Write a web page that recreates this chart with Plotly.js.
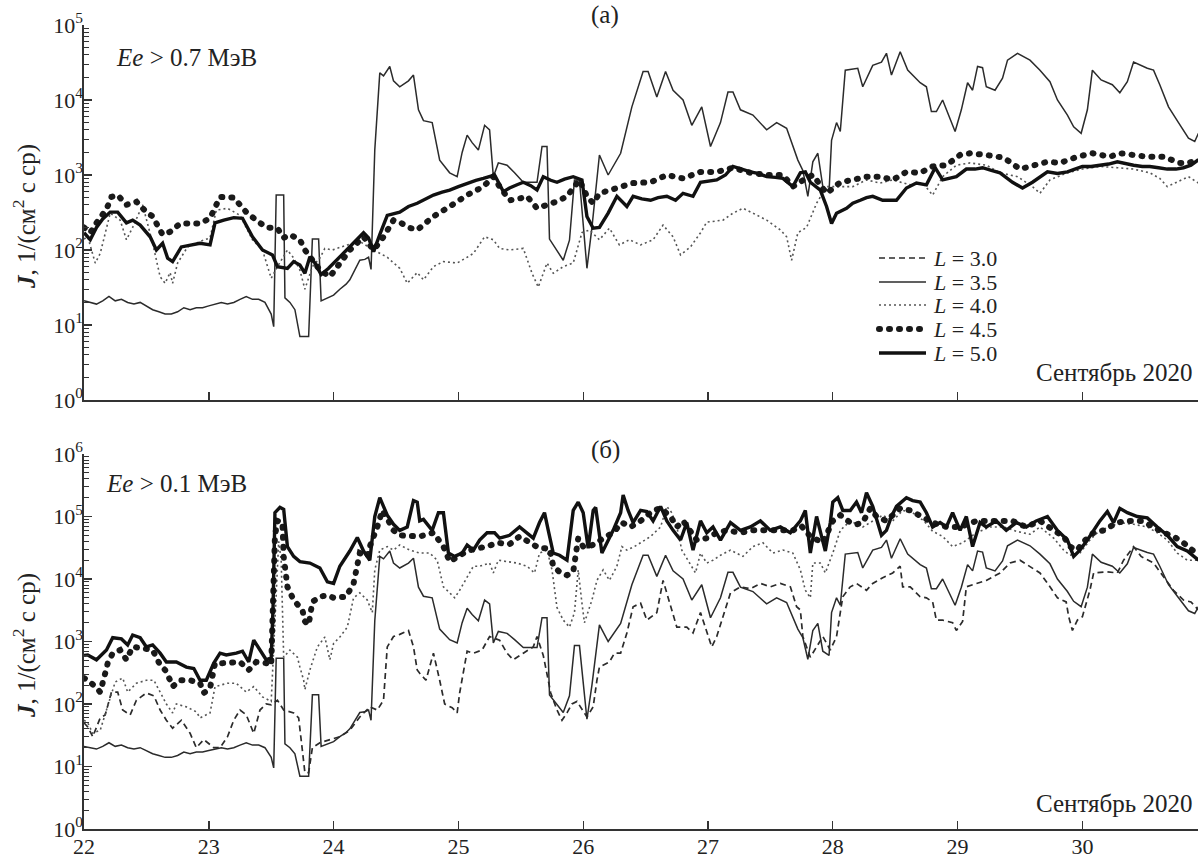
<!DOCTYPE html>
<html>
<head>
<meta charset="utf-8">
<script src="https://cdn.plot.ly/plotly-3.0.1.min.js"></script>
<style>html,body{margin:0;padding:0;background:#fff}</style>
</head>
<body>
<div id="chart" style="width:1200px;height:859px"></div>
<script>
// Days of September 2020 on the time axis
const dayTicks = [22, 23, 24, 25, 26, 27, 28, 29, 30];
const dayLabels = ['22', '23', '24', '25', '26', '27', '28', '29', '30'];
const decadesA = [0, 1, 2, 3, 4, 5];
const decadesB = [0, 1, 2, 3, 4, 5, 6];
const shellNames = ['3.0', '3.5', '4.0', '4.5', '5.0'];

// Electron flux [day, J] per drift shell L.
// L = 3.5 is the same record in both panels.
const flux_L35 = [
  [22.00,21],[22.05,20],[22.10,19],[22.15,21],[22.20,24],[22.25,21],[22.30,22],[22.35,20],[22.40,19],[22.45,20],
  [22.50,18],[22.55,16],[22.60,15],[22.65,14],[22.70,14],[22.75,15],[22.80,17],[22.85,16],[22.90,17],[22.95,17],
  [23.00,18],[23.05,19],[23.10,20],[23.15,19],[23.20,20],[23.25,22],[23.30,24],[23.35,22],[23.40,22],[23.45,20],
  [23.50,14],[23.52,9.5],[23.54,540],[23.60,540],[23.61,23],[23.65,20],[23.69,16],[23.73,7],[23.80,7],[23.83,140],
  [23.88,140],[23.90,21],[23.95,23],[24.00,25],[24.05,30],[24.10,35],[24.13,40],[24.17,55],[24.21,73],[24.25,75],
  [24.28,80],[24.30,55],[24.33,2150],[24.37,23000],[24.40,21000],[24.45,28000],[24.48,18000],[24.53,15000],[24.60,18000],[24.64,21500],
  [24.68,7400],[24.72,5300],[24.79,5000],[24.85,1580],[24.93,1070],[24.99,950],[25.03,2000],[25.07,3400],[25.11,2700],[25.16,2150],
  [25.21,4600],[25.25,4000],[25.28,950],[25.32,1450],[25.39,1350],[25.45,1070],[25.52,800],[25.63,800],[25.67,2400],[25.71,2400],
  [25.73,140],[25.84,73],[25.89,135],[25.93,860],[25.97,860],[26.03,57],[26.07,200],[26.13,1850],[26.20,1000],[26.30,1950],
  [26.35,4400],[26.39,8100],[26.48,24000],[26.52,24000],[26.59,11000],[26.66,24000],[26.72,13500],[26.80,10000],[26.87,4600],[26.95,8100],
  [27.02,2400],[27.10,5000],[27.16,12800],[27.20,12800],[27.26,7400],[27.36,6300],[27.47,4000],[27.55,5000],[27.63,4200],[27.67,2700],
  [27.72,1580],[27.76,1150],[27.80,520],[27.84,1500],[27.88,1950],[27.92,700],[27.97,600],[27.99,2900],[28.03,5000],[28.06,3800],
  [28.10,25000],[28.20,26500],[28.24,15000],[28.32,29000],[28.39,32000],[28.43,42000],[28.47,21500],[28.54,44000],[28.60,25000],[28.70,17000],
  [28.75,15000],[28.79,7000],[28.83,7000],[28.88,10000],[28.92,6700],[28.98,3800],[29.03,7400],[29.08,17000],[29.12,13500],[29.16,28000],
  [29.20,27000],[29.23,15000],[29.30,13500],[29.36,19500],[29.40,34000],[29.48,42000],[29.58,34000],[29.66,25000],[29.74,17500],[29.80,10000],
  [29.88,6300],[29.93,4400],[29.99,3600],[30.04,7400],[30.08,25000],[30.15,18500],[30.24,16000],[30.30,12500],[30.36,17500],[30.41,32000],
  [30.52,26500],[30.57,25000],[30.62,16000],[30.69,8100],[30.77,5000],[30.85,3100],[30.90,2800],[30.93,3600]
];

// Panel (а): Ee > 0.7 MeV
const e07_L40 = [
  [22.00,140],[22.03,150],[22.09,67],[22.13,90],[22.21,310],[22.29,250],[22.34,137],[22.39,200],[22.47,400],[22.55,123],
  [22.61,44],[22.65,36],[22.69,50],[22.71,36],[22.75,67],[22.83,110],[22.93,130],[23.01,145],[23.06,340],[23.15,360],
  [23.25,290],[23.35,137],[23.43,100],[23.50,42],[23.55,60],[23.63,100],[23.68,78],[23.73,54],[23.77,30],[23.83,60],
  [23.89,78],[23.93,105],[23.99,100],[24.11,117],[24.21,130],[24.32,100],[24.43,80],[24.53,57],[24.59,36],[24.67,50],
  [24.72,40],[24.80,60],[24.88,70],[24.99,67],[25.07,80],[25.12,90],[25.21,150],[25.28,137],[25.33,105],[25.41,100],
  [25.52,105],[25.59,49],[25.64,32],[25.71,67],[25.76,49],[25.84,60],[25.92,67],[25.99,170],[26.05,185],[26.13,137],
  [26.21,195],[26.29,117],[26.37,137],[26.46,117],[26.56,137],[26.64,215],[26.72,150],[26.78,86],[26.86,110],[26.94,170],
  [26.99,235],[27.12,250],[27.20,310],[27.28,360],[27.36,310],[27.47,250],[27.58,185],[27.63,150],[27.67,73],[27.72,170],
  [27.79,200],[27.87,420],[27.95,700],[28.06,700],[28.16,700],[28.27,860],[28.38,780],[28.48,860],[28.62,740],[28.72,780],
  [28.80,540],[28.88,950],[28.99,1350],[29.10,1450],[29.23,1350],[29.34,1070],[29.48,950],[29.60,700],[29.66,570],[29.74,860],
  [29.88,1070],[30.00,1200],[30.14,1300],[30.28,1250],[30.41,1200],[30.54,1070],[30.62,900],[30.68,700],[30.76,800],[30.85,950],
  [30.93,780]
];

const e07_L45 = [
  [22.00,200],[22.05,170],[22.10,230],[22.18,350],[22.22,510],[22.27,540],[22.34,400],[22.42,440],[22.50,320],[22.55,280],
  [22.63,160],[22.69,175],[22.77,225],[22.85,225],[22.93,225],[23.01,265],[23.06,380],[23.09,510],[23.20,500],[23.30,320],
  [23.38,250],[23.46,200],[23.55,195],[23.60,145],[23.65,160],[23.73,137],[23.77,100],[23.84,67],[23.89,54],[23.97,44],
  [24.03,60],[24.13,100],[24.24,150],[24.32,100],[24.40,150],[24.48,250],[24.53,235],[24.60,200],[24.67,185],[24.80,280],
  [24.93,380],[25.07,540],[25.20,700],[25.28,950],[25.33,700],[25.41,460],[25.48,480],[25.55,520],[25.63,360],[25.73,400],
  [25.80,450],[25.87,520],[25.97,860],[26.03,520],[26.08,420],[26.13,570],[26.20,620],[26.27,670],[26.40,780],[26.54,800],
  [26.67,1000],[26.80,900],[26.94,1100],[27.07,1100],[27.20,1250],[27.34,1070],[27.47,1000],[27.60,1000],[27.68,700],[27.76,850],
  [27.84,1000],[27.95,570],[28.06,800],[28.16,860],[28.27,950],[28.38,950],[28.48,860],[28.59,1100],[28.70,1070],[28.80,1300],
  [28.91,1350],[29.02,1850],[29.10,1950],[29.23,1850],[29.37,1700],[29.50,1200],[29.60,1300],[29.72,1500],[29.82,1450],[29.96,1750],
  [30.08,1950],[30.22,1750],[30.30,1950],[30.38,1850],[30.52,1750],[30.65,1750],[30.78,1450],[30.85,1450],[30.93,1600]
];

const e07_L50 = [
  [22.00,170],[22.05,137],[22.10,200],[22.15,260],[22.21,320],[22.27,320],[22.34,230],[22.39,250],[22.45,215],[22.53,150],
  [22.58,100],[22.63,123],[22.67,78],[22.71,70],[22.78,110],[22.85,115],[22.93,123],[23.01,117],[23.05,230],[23.12,250],
  [23.20,270],[23.27,265],[23.35,150],[23.43,100],[23.51,86],[23.55,60],[23.63,57],[23.68,70],[23.73,63],[23.77,49],
  [23.81,81],[23.85,67],[23.90,47],[23.96,57],[24.05,81],[24.16,123],[24.24,170],[24.28,145],[24.32,95],[24.37,160],
  [24.43,290],[24.53,320],[24.60,380],[24.67,420],[24.74,480],[24.80,540],[24.87,590],[24.93,630],[25.00,700],[25.07,780],
  [25.14,850],[25.20,900],[25.29,1000],[25.36,600],[25.41,670],[25.47,740],[25.52,800],[25.58,720],[25.63,630],[25.68,950],
  [25.74,850],[25.79,800],[25.85,880],[25.92,950],[25.99,860],[26.03,280],[26.08,195],[26.13,200],[26.20,310],[26.27,520],
  [26.35,380],[26.40,520],[26.47,480],[26.54,460],[26.60,500],[26.67,520],[26.74,460],[26.80,570],[26.88,520],[26.94,800],
  [27.00,820],[27.07,860],[27.14,1000],[27.20,1300],[27.27,1200],[27.34,1100],[27.40,1050],[27.47,950],[27.54,930],[27.60,900],
  [27.68,700],[27.74,1070],[27.78,1100],[27.82,800],[27.90,630],[27.95,380],[27.99,225],[28.03,310],[28.11,360],[28.16,420],
  [28.22,460],[28.27,500],[28.32,520],[28.40,460],[28.51,460],[28.59,670],[28.67,780],[28.75,740],[28.82,1250],[28.88,860],
  [28.99,950],[29.07,1200],[29.14,1200],[29.20,1250],[29.27,1150],[29.34,1070],[29.44,800],[29.52,670],[29.60,800],[29.66,950],
  [29.72,1100],[29.80,1050],[29.88,1100],[29.94,1200],[30.00,1300],[30.07,1300],[30.14,1350],[30.21,1400],[30.28,1500],[30.35,1400],
  [30.41,1350],[30.48,1300],[30.54,1300],[30.61,1250],[30.68,1200],[30.75,1200],[30.81,1250],[30.87,1350],[30.93,1600]
];

// Panel (б): Ee > 0.1 MeV
const e01_L30 = [
  [22.00,50],[22.03,43],[22.07,30],[22.13,60],[22.17,67],[22.22,155],[22.27,155],[22.31,80],[22.37,67],[22.42,115],
  [22.50,150],[22.56,135],[22.61,80],[22.66,55],[22.71,41],[22.78,55],[22.85,34],[22.90,20],[22.96,27],[23.04,20],
  [23.09,20],[23.15,30],[23.20,55],[23.25,80],[23.30,67],[23.36,34],[23.41,80],[23.46,100],[23.50,97],[23.55,115],
  [23.60,80],[23.68,72],[23.72,60],[23.75,20],[23.77,8],[23.80,8],[23.83,20],[23.89,24],[23.97,27],[24.05,30],
  [24.13,38],[24.21,62],[24.29,90],[24.35,80],[24.40,115],[24.43,820],[24.48,1200],[24.53,1300],[24.60,1500],[24.64,820],
  [24.67,350],[24.69,310],[24.74,240],[24.79,510],[24.80,650],[24.85,240],[24.89,100],[24.95,87],[24.99,72],[25.01,150],
  [25.07,700],[25.12,650],[25.19,730],[25.25,1200],[25.33,1050],[25.39,650],[25.44,510],[25.52,650],[25.60,820],[25.63,1200],
  [25.68,600],[25.74,150],[25.79,80],[25.83,55],[25.87,72],[25.91,100],[25.95,110],[26.03,62],[26.08,90],[26.11,240],
  [26.13,390],[26.21,470],[26.25,650],[26.30,650],[26.35,1370],[26.40,3600],[26.46,4100],[26.51,2200],[26.59,2900],[26.64,9500],
  [26.70,3600],[26.75,1700],[26.83,1700],[26.88,1370],[26.94,2900],[26.99,1370],[27.03,820],[27.07,1200],[27.12,2500],[27.18,6000],
  [27.26,7500],[27.34,7000],[27.42,8500],[27.50,7500],[27.58,8500],[27.66,7500],[27.71,3600],[27.74,3200],[27.76,1200],[27.82,560],
  [27.87,820],[27.92,1200],[27.98,730],[28.03,1200],[28.08,5200],[28.14,7500],[28.19,8500],[28.27,6600],[28.32,8500],[28.40,10500],
  [28.48,12500],[28.54,16000],[28.56,7500],[28.62,7500],[28.70,5200],[28.75,5000],[28.80,4300],[28.83,2200],[28.88,2200],[28.96,2000],
  [28.99,1500],[29.04,2100],[29.07,7500],[29.15,8500],[29.23,9500],[29.34,12500],[29.42,18000],[29.50,20000],[29.58,16000],[29.66,12500],
  [29.74,7500],[29.80,5000],[29.87,4300],[29.89,2500],[29.92,1500],[29.96,2200],[30.00,2500],[30.06,6600],[30.09,12500],[30.20,13000],
  [30.28,12500],[30.33,20000],[30.41,33000],[30.47,23000],[30.57,18000],[30.65,11000],[30.73,6600],[30.81,4600],[30.87,4300],[30.93,3200]
];

const e01_L40 = [
  [22.00,55],[22.03,50],[22.07,34],[22.13,38],[22.18,80],[22.25,225],[22.31,260],[22.35,155],[22.42,215],[22.50,240],
  [22.56,240],[22.61,155],[22.66,100],[22.71,72],[22.74,100],[22.82,90],[22.90,75],[22.93,60],[23.01,72],[23.05,190],
  [23.15,215],[23.22,215],[23.30,155],[23.36,190],[23.43,130],[23.50,110],[23.53,2500],[23.56,40000],[23.58,20000],[23.60,560],
  [23.65,730],[23.71,560],[23.73,390],[23.76,240],[23.77,170],[23.81,350],[23.87,820],[23.93,1180],[23.97,510],[24.00,930],
  [24.05,1180],[24.11,1700],[24.16,5000],[24.21,6000],[24.27,4600],[24.31,2900],[24.33,14000],[24.37,29000],[24.43,33000],[24.48,29000],
  [24.53,35000],[24.61,29000],[24.69,26000],[24.77,26000],[24.83,20000],[24.88,7500],[24.93,6000],[24.97,5000],[25.01,6600],[25.07,11000],
  [25.12,16000],[25.17,16000],[25.25,18000],[25.28,12500],[25.32,20000],[25.39,19000],[25.47,18000],[25.55,16000],[25.61,12500],[25.65,26000],
  [25.71,29000],[25.75,14000],[25.79,3500],[25.84,2200],[25.89,1700],[25.93,2900],[25.96,14000],[25.99,4100],[26.01,2000],[26.07,4600],
  [26.11,9500],[26.16,14000],[26.21,9500],[26.27,16000],[26.31,33000],[26.35,29000],[26.41,33000],[26.46,38000],[26.54,48000],[26.62,68000],
  [26.67,145000],[26.71,115000],[26.75,68000],[26.79,29000],[26.84,20000],[26.90,12500],[26.94,26000],[26.99,18000],[27.04,20000],[27.10,24000],
  [27.18,29000],[27.28,23000],[27.36,33000],[27.44,38000],[27.52,26000],[27.60,29000],[27.68,26000],[27.74,14000],[27.78,6600],[27.82,5000],
  [27.84,18000],[27.90,18000],[27.94,12500],[28.00,26000],[28.06,60000],[28.14,85000],[28.24,68000],[28.32,85000],[28.40,105000],[28.48,85000],
  [28.56,125000],[28.64,115000],[28.73,85000],[28.80,58000],[28.88,48000],[28.96,33000],[29.04,38000],[29.15,55000],[29.26,68000],[29.37,68000],
  [29.47,58000],[29.58,52000],[29.66,68000],[29.77,45000],[29.85,29000],[29.90,24000],[29.98,26000],[30.06,42000],[30.14,60000],[30.22,68000],
  [30.30,80000],[30.41,75000],[30.52,68000],[30.60,55000],[30.68,42000],[30.76,26000],[30.84,20000],[30.93,20000]
];

const e01_L45 = [
  [22.00,260],[22.03,240],[22.09,190],[22.13,155],[22.17,310],[22.19,450],[22.23,650],[22.29,730],[22.34,510],[22.39,820],
  [22.47,780],[22.55,730],[22.61,420],[22.65,350],[22.69,240],[22.71,190],[22.77,240],[22.85,240],[22.93,215],[22.96,150],
  [23.01,180],[23.05,450],[23.11,450],[23.20,450],[23.25,470],[23.32,350],[23.38,470],[23.46,450],[23.50,420],[23.53,48000],
  [23.55,85000],[23.59,80000],[23.60,23000],[23.63,7500],[23.68,4600],[23.75,3200],[23.77,2100],[23.80,1850],[23.83,4300],[23.89,5200],
  [23.95,5500],[24.00,5000],[24.10,5200],[24.16,8500],[24.21,26000],[24.27,23000],[24.29,33000],[24.35,68000],[24.39,125000],[24.44,85000],
  [24.48,60000],[24.53,50000],[24.60,48000],[24.69,48000],[24.80,55000],[24.88,33000],[24.93,19000],[25.00,23000],[25.07,28000],[25.15,31000],
  [25.23,33000],[25.31,38000],[25.41,36000],[25.49,48000],[25.57,38000],[25.65,31000],[25.73,31000],[25.76,16000],[25.81,13000],[25.87,11500],
  [25.92,13000],[25.96,45000],[26.00,33000],[26.05,33000],[26.11,38000],[26.16,45000],[26.24,55000],[26.31,80000],[26.38,68000],[26.46,85000],
  [26.56,125000],[26.62,135000],[26.70,100000],[26.75,68000],[26.80,85000],[26.86,55000],[26.91,42000],[26.99,45000],[27.07,55000],[27.15,60000],
  [27.26,55000],[27.36,60000],[27.47,60000],[27.58,60000],[27.68,60000],[27.75,70000],[27.82,48000],[27.92,38000],[28.00,85000],[28.06,105000],
  [28.14,80000],[28.19,75000],[28.24,80000],[28.30,135000],[28.35,100000],[28.43,85000],[28.54,135000],[28.62,125000],[28.70,100000],[28.80,80000],
  [28.91,68000],[29.02,68000],[29.15,85000],[29.23,85000],[29.34,85000],[29.44,85000],[29.55,68000],[29.66,85000],[29.77,60000],[29.85,48000],
  [29.90,33000],[29.96,29000],[30.00,38000],[30.09,55000],[30.17,60000],[30.28,80000],[30.36,85000],[30.47,85000],[30.57,68000],[30.65,55000],
  [30.73,48000],[30.81,38000],[30.89,28000],[30.93,26000]
];

const e01_L50 = [
  [22.00,600],[22.03,610],[22.10,510],[22.18,730],[22.23,1150],[22.30,1100],[22.35,880],[22.39,1270],[22.45,1150],[22.50,820],
  [22.55,880],[22.61,650],[22.66,470],[22.74,470],[22.82,390],[22.88,370],[22.93,240],[22.98,240],[23.04,450],[23.09,650],
  [23.14,610],[23.22,650],[23.27,700],[23.32,470],[23.36,1050],[23.41,730],[23.46,510],[23.50,550],[23.515,3600],[23.53,115000],
  [23.57,140000],[23.60,130000],[23.63,33000],[23.68,23000],[23.73,19000],[23.81,18000],[23.89,15000],[23.95,9000],[24.00,8500],[24.05,16000],
  [24.13,28000],[24.19,46000],[24.24,28000],[24.29,20000],[24.33,100000],[24.37,200000],[24.43,105000],[24.48,75000],[24.53,60000],[24.59,68000],
  [24.64,180000],[24.67,170000],[24.69,85000],[24.72,90000],[24.79,60000],[24.84,115000],[24.88,115000],[24.92,26000],[24.97,23000],[25.03,26000],
  [25.07,35000],[25.12,29000],[25.17,42000],[25.23,55000],[25.29,55000],[25.33,45000],[25.41,50000],[25.49,68000],[25.55,55000],[25.60,45000],
  [25.65,80000],[25.69,115000],[25.72,60000],[25.76,26000],[25.81,24000],[25.87,20000],[25.92,125000],[25.96,170000],[26.00,115000],[26.04,31000],
  [26.08,125000],[26.10,140000],[26.15,26000],[26.19,38000],[26.24,60000],[26.30,115000],[26.32,220000],[26.36,125000],[26.40,80000],[26.46,125000],
  [26.51,120000],[26.56,85000],[26.62,145000],[26.67,85000],[26.72,60000],[26.78,42000],[26.83,80000],[26.88,29000],[26.94,85000],[26.99,55000],
  [27.04,68000],[27.10,42000],[27.18,80000],[27.26,60000],[27.34,68000],[27.42,85000],[27.50,60000],[27.58,68000],[27.66,55000],[27.74,85000],
  [27.78,125000],[27.82,26000],[27.87,100000],[27.91,48000],[27.94,28000],[27.98,80000],[28.00,170000],[28.04,200000],[28.08,125000],[28.14,125000],
  [28.19,170000],[28.23,115000],[28.27,240000],[28.32,145000],[28.39,50000],[28.43,60000],[28.47,100000],[28.51,145000],[28.59,200000],[28.64,180000],
  [28.70,170000],[28.75,115000],[28.80,68000],[28.86,80000],[28.91,68000],[28.96,115000],[29.02,60000],[29.07,100000],[29.12,33000],[29.18,80000],
  [29.23,68000],[29.31,85000],[29.39,60000],[29.47,80000],[29.55,68000],[29.63,85000],[29.72,100000],[29.80,60000],[29.88,42000],[29.93,23000],
  [29.98,29000],[30.04,42000],[30.09,60000],[30.14,85000],[30.20,120000],[30.25,80000],[30.30,135000],[30.36,115000],[30.44,100000],[30.52,95000],
  [30.60,68000],[30.68,50000],[30.76,33000],[30.84,28000],[30.93,20000]
];

// Line style of each drift shell
const shellStyle = {
  '3.0': {color: '#2b2b2b', width: 1.7, dash: '6px,4px'},
  '3.5': {color: '#2b2b2b', width: 1.5, dash: 'solid'},
  '4.0': {color: '#555555', width: 1.6, dash: '2px,3px'},
  '4.5': {color: '#1a1a1a', width: 6, dash: '1px,9px'},
  '5.0': {color: '#111111', width: 3.4, dash: 'solid'}
};

// Plot-area geometry in page pixels, converted to paper coordinates
const M = {l: 84, r: 2, t: 25, b: 30, W: 1200, H: 859};
const plotW = M.W - M.l - M.r, plotH = M.H - M.t - M.b;
const px = x => (x - M.l) / plotW;
const py = y => (M.H - M.b - y) / plotH;

function series(points, shell, xa, ya) {
  return {
    type: 'scatter', mode: 'lines',
    x: points.map(p => p[0]), y: points.map(p => p[1]),
    xaxis: xa, yaxis: ya, showlegend: false, hoverinfo: 'skip',
    line: Object.assign({shape: 'linear'}, shellStyle[shell])
  };
}

const traces = [
  series(flux_L35, '3.5', 'x', 'y'),
  series(e07_L40, '4.0', 'x', 'y'),
  series(e07_L45, '4.5', 'x', 'y'),
  series(e07_L50, '5.0', 'x', 'y'),
  series(e01_L30, '3.0', 'x2', 'y2'),
  series(flux_L35, '3.5', 'x2', 'y2'),
  series(e01_L40, '4.0', 'x2', 'y2'),
  series(e01_L45, '4.5', 'x2', 'y2'),
  series(e01_L50, '5.0', 'x2', 'y2')
];

const serif = 'Liberation Serif, "Times New Roman", serif';
const tickFont = {family: serif, size: 22, color: '#222'};
const textFont = {family: serif, size: 25, color: '#222'};
const keyFont = {family: serif, size: 22, color: '#222'};
const ink = '#333';

function minorLog(decades) {
  const v = [];
  for (let d = decades[0]; d < decades[decades.length - 1]; d++)
    for (let k = 2; k <= 9; k++) v.push(k * Math.pow(10, d));
  return v;
}

function xAxis(anchor, labels) {
  return {
    anchor: anchor, range: [22, 22 + plotW / 124.8], domain: [0, 1],
    tickmode: 'array', tickvals: dayTicks, ticktext: dayLabels,
    showticklabels: labels, ticks: 'inside', ticklen: 8, tickwidth: 1.4, tickcolor: ink,
    showline: true, linecolor: ink, linewidth: 1.6, showgrid: false, zeroline: false,
    tickfont: tickFont, ticklabelstandoff: -3, fixedrange: true
  };
}

function yAxis(anchor, decades, domain) {
  return {
    anchor: anchor, type: 'log', domain: domain,
    range: [decades[0], decades[decades.length - 1]],
    tickmode: 'array', tickvals: decades.map(d => Math.pow(10, d)),
    ticktext: decades.map(d => '10<sup>' + d + '</sup>'),
    ticks: 'inside', ticklen: 8, tickwidth: 1.4, tickcolor: ink,
    minor: {tickmode: 'array', tickvals: minorLog(decades), ticks: 'inside', ticklen: 5, tickwidth: 1, tickcolor: ink},
    showline: true, linecolor: ink, linewidth: 1.6, showgrid: false, zeroline: false,
    tickfont: tickFont, ticklabelstandoff: -5, fixedrange: true
  };
}

const txt = (text, x, y, xanchor, font, extra) => Object.assign({
  text: text, xref: 'paper', yref: 'paper', x: px(x), y: py(y),
  xanchor: xanchor, yanchor: 'middle', showarrow: false, font: font
}, extra || {});

const yTitle = '<b><i>J</i></b>, 1/(см<sup>2</sup> с ср)';

const annotations = [
  txt('(а)', 605, 15, 'center', textFont),
  txt('(б)', 605, 450, 'center', textFont),
  txt('<i>Ee</i> &gt; 0.7 МэВ', 114, 57, 'left', textFont),
  txt('<i>Ee</i> &gt; 0.1 МэВ', 104, 483, 'left', textFont),
  txt('Сентябрь 2020', 1194, 372, 'right', textFont),
  txt('Сентябрь 2020', 1194, 803, 'right', textFont),
  txt(yTitle, 24, 217, 'center', textFont, {textangle: -90}),
  txt(yTitle, 24, 646, 'center', textFont, {textangle: -90})
];

// Key of line styles, drawn inside panel (а)
const keyRows = [258, 282, 305, 329, 353];
const shapes = [];
shellNames.forEach((name, i) => {
  const st = shellStyle[name];
  shapes.push({
    type: 'line', xref: 'paper', yref: 'paper',
    x0: px(879), x1: px(926), y0: py(keyRows[i]), y1: py(keyRows[i]),
    line: {color: st.color, width: st.width, dash: st.dash}
  });
  annotations.push(txt('<i>L</i> = ' + name, 931, keyRows[i], 'left', keyFont));
});

const layout = {
  width: M.W, height: M.H,
  margin: {l: M.l, r: M.r, t: M.t, b: M.b},
  paper_bgcolor: '#ffffff', plot_bgcolor: '#ffffff',
  showlegend: false,
  font: tickFont,
  xaxis: xAxis('y', false),
  yaxis: yAxis('x', decadesA, [py(400), 1]),
  xaxis2: xAxis('y2', true),
  yaxis2: yAxis('x2', decadesB, [0, py(454)]),
  annotations: annotations,
  shapes: shapes
};

const gd = document.getElementById('chart');
Plotly.newPlot(gd, traces, layout, {staticPlot: true, displayModeBar: false}).then(() => {
  // round caps turn the sparse dash of L = 4.5 into round dots
  gd.querySelectorAll('path').forEach(p => {
    if ((p.style.strokeDasharray || '').replace(/\s/g, '') === '1px,9px') p.style.strokeLinecap = 'round';
  });
});
</script>
</body>
</html>
